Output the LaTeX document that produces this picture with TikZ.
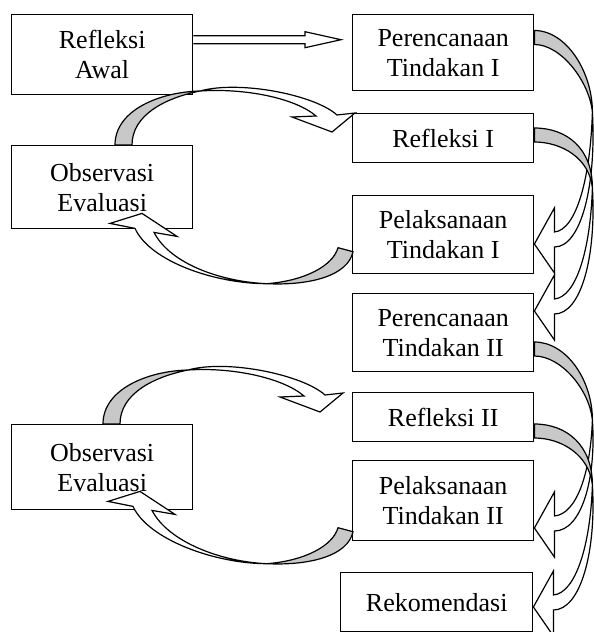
\documentclass[tikz,border=0pt]{standalone}
\usepackage{fontspec}
\setmainfont{Liberation Serif}
\usetikzlibrary{calc}
\definecolor{loopGrey}{HTML}{C8C8C8}
\newcommand{\stagefont}{\fontsize{26}{30}\selectfont}
\tikzset{
  stage/.style={
    draw=black, line width=1.4pt, fill=white, minimum width=181pt,
    minimum height=#1, align=center, inner sep=0pt, font=\stagefont},
  stage/.default=78pt,
  frontface/.style={draw=black, line width=1.2pt, fill=white},
  backface/.style={draw=black, line width=1.2pt, fill=loopGrey},
  blockarrow/.style={draw=black, line width=1.2pt, fill=white},
}

\begin{document}
\begin{tikzpicture}[x=1pt, y=-1pt]
\useasboundingbox (0,0) rectangle (594,632);
\clip (0,0) rectangle (594,632);

% left column
\node[stage=80pt, anchor=north west] (awal) at (11,14) {Refleksi\\Awal};
\node[stage=83pt, anchor=north west] (obs1) at (11,145) {Observasi\\Evaluasi};
\node[stage=85pt, anchor=north west] (obs2) at (11,424) {Observasi\\Evaluasi};

% right column
\node[stage=76pt, anchor=north west] (renc1) at (352,14) {Perencanaan\\Tindakan I};
\node[stage=49pt, anchor=north west] (ref1) at (352,113) {Refleksi I};
\node[stage, anchor=north west] (pel1) at (352,195) {Pelaksanaan\\Tindakan I};
\node[stage, anchor=north west] (renc2) at (352,293) {Perencanaan\\Tindakan II};
\node[stage=49pt, anchor=north west] (ref2) at (352,392) {Refleksi II};
\node[stage=80pt, anchor=north west] (pel2) at (352,460) {Pelaksanaan\\Tindakan II};
\node[stage=59pt, minimum width=192pt, anchor=north west] (rekom) at (340,572) {Rekomendasi};

% straight block arrow
\coordinate (a) at ([yshift=15pt]awal.east);
\coordinate (b) at ($(renc1.west |- a)+(-11,0)$);
\filldraw[blockarrow] ($(a)+(0,-4)$) -- ($(b)+(-36,-4)$) -- ($(b)+(-36,-8)$) -- (b)
  -- ($(b)+(-36,8)$) -- ($(b)+(-36,4)$) -- ($(a)+(0,4)$);

% curved arrows on the right
\foreach \src/\dst/\ys/\ym/\yt in {renc1/pel1/37.5/112/244, ref1/renc2/135/188/311,
                                   renc2/pel2/349/420/528, ref2/rekom/431/485/607} {
  \coordinate (s) at (\src.east |- 0,\ys);
  \coordinate (m) at ($(\src.east |- 0,\ym)+(58,0)$);
  \coordinate (t) at (\dst.east |- 0,\yt);
  \filldraw[frontface] (m) .. controls ($(m)+(-2,{0.5*(\yt-\ym)})$) and ($(t)+(42,-14)$) .. ($(t)+(20,-12)$)
    -- ($(t)+(20,-36)$) -- (t) -- ($(t)+(20,29)$) -- ($(t)+(20,3)$)
    .. controls ($(t)+(47,3)$) and ($(m)+(4,{0.55*(\yt-\ym)})$) .. (m) -- cycle;
  \filldraw[backface] ($(s)+(0,-7)$) .. controls ($(s)+(32,-7)$) and ($(m)+(0,-40)$) .. (m)
    .. controls ($(m)+(-3,-30)$) and ($(s)+(27,7)$) .. ($(s)+(0,7)$) -- cycle;
}

% loops over the top: observation -> reflection
\foreach \src/\dst/\sx/\tx/\ty in {obs1/ref1/112.5/-20/19, obs2/ref2/100.5/-32/20} {
  \coordinate (s) at ($(\src.north west)+(\sx,0)$);
  \coordinate (t) at ($(\dst.north west)+(\tx,\ty)$);
  \coordinate (g) at ($(s)+(76.5,-54)$);
  \filldraw[frontface] (g) .. controls ($(g)+(40,-11)$) and ($(t)+(-17,-37)$) .. ($(t)+(5,-17)$)
    -- ($(t)+(23,-19)$) -- (t) -- ($(t)+(-40,-15)$) -- ($(t)+(-16,-16)$)
    .. controls ($(t)+(-37,-34)$) and ($(g)+(45,-3)$) .. (g) -- cycle;
  \filldraw[backface] ($(s)+(-8.5,0)$) .. controls ($(s)+(-8.5,-35)$) and ($(g)+(-40,1)$) .. (g)
    .. controls ($(g)+(-35,7)$) and ($(s)+(8.5,-30)$) .. ($(s)+(8.5,0)$) -- cycle;
}

% loops underneath: action -> observation
\foreach \src/\dst/\sy/\tx/\ty in {pel1/obs1/15/131/-16, pel2/obs2/29/129/-19} {
  \coordinate (s) at ($(\src.west)+(-6.5,\sy)$);
  \coordinate (t) at ($(\dst.south west)+(\tx,\ty)$);
  \coordinate (g) at ($(s)+(-78.5,34)$);
  \filldraw[frontface] (g) .. controls ($(g)+(-52,0)$) and ($(t)+(8,48)$) .. ($(t)+(-7,15)$)
    -- ($(t)+(-32,10)$) -- (t) -- ($(t)+(35,23)$) -- ($(t)+(12,19)$)
    .. controls ($(t)+(28,50)$) and ($(g)+(-47,-2)$) .. (g) -- cycle;
  \filldraw[backface] ($(s)+(-7.5,-2)$) .. controls ($(s)+(-12.5,16)$) and ($(g)+(38,-3)$) .. (g)
    .. controls ($(g)+(43,2)$) and ($(s)+(2.5,26)$) .. ($(s)+(7.5,2)$) -- cycle;
}

\end{tikzpicture}
\end{document}
